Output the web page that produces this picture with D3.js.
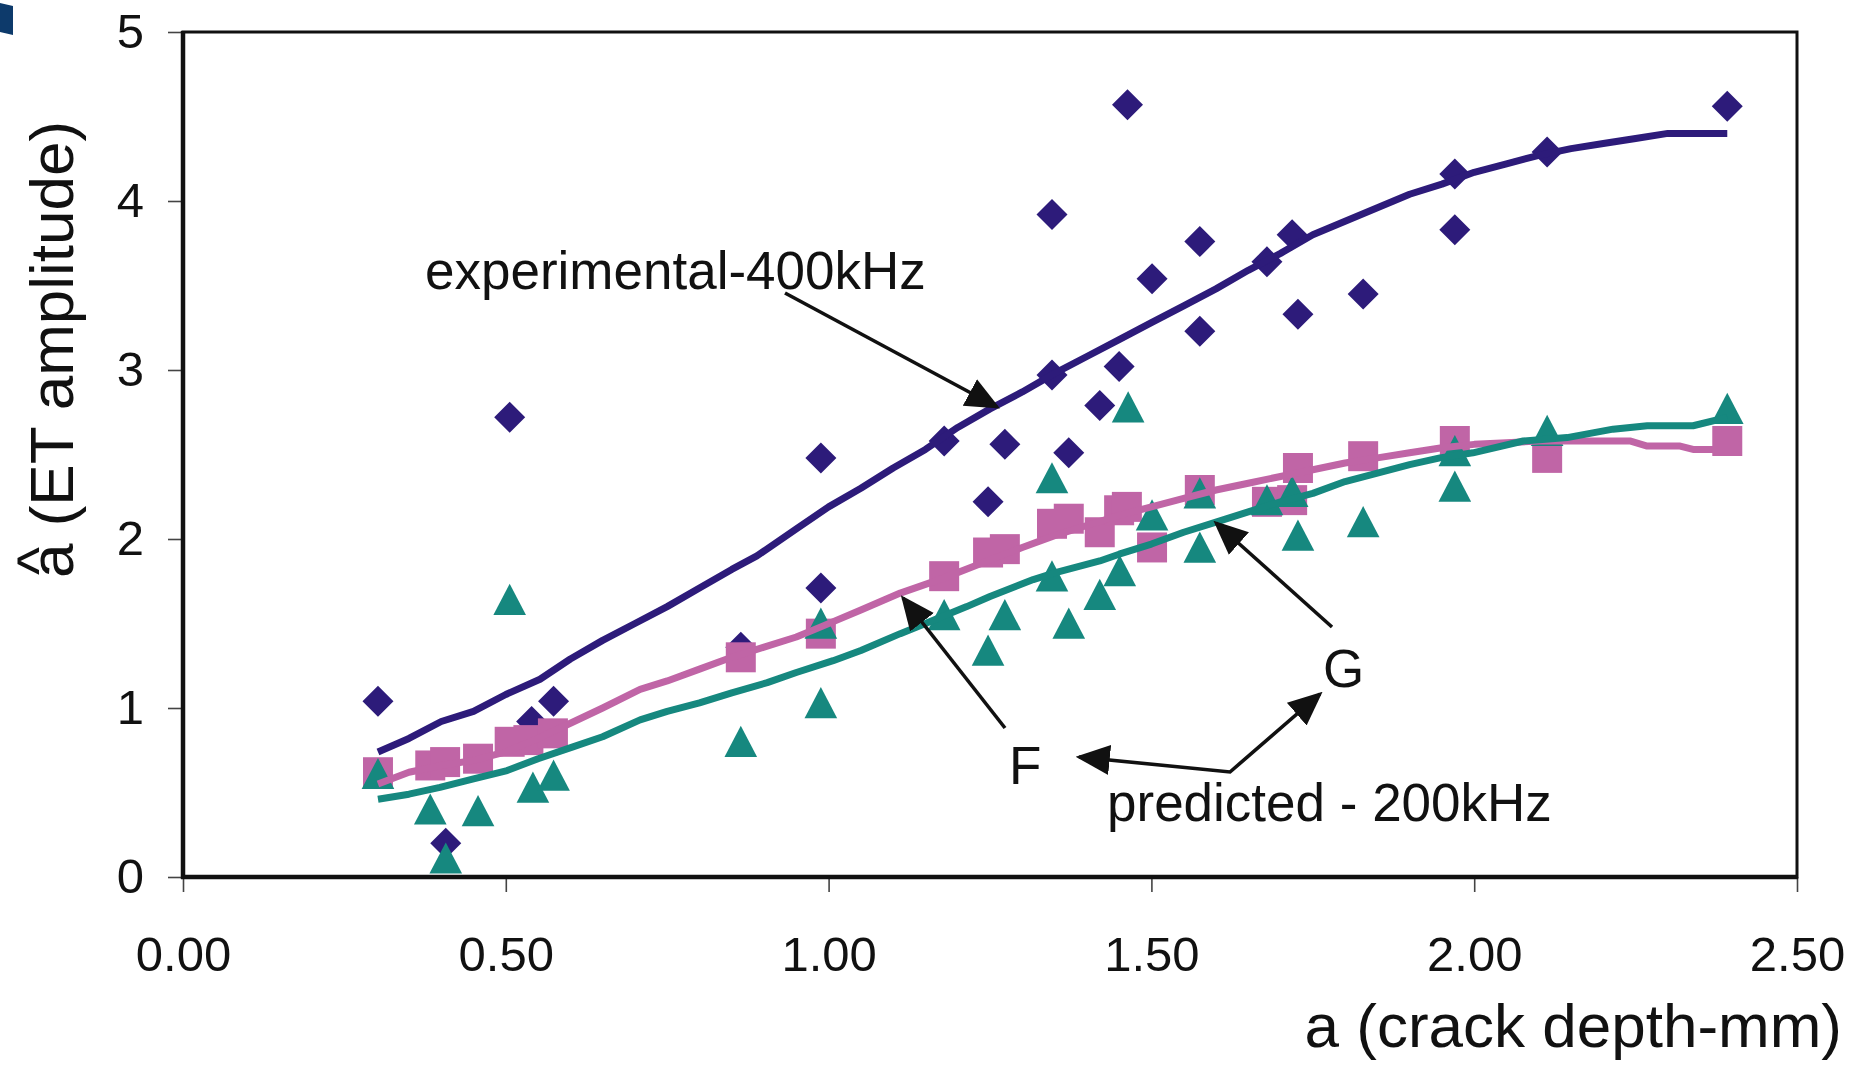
<!DOCTYPE html>
<html><head><meta charset="utf-8">
<script src="https://cdn.jsdelivr.net/npm/d3@7"></script>
<style>html,body{margin:0;padding:0;background:#fff;} svg{display:block;}</style>
</head><body>
<svg id="chart" width="1851" height="1065"></svg>
<script>
// ---------- data ----------
const xTicks = [0, 0.5, 1.0, 1.5, 2.0, 2.5];
const yTicks = [0, 1, 2, 3, 4, 5];

// experimental 400 kHz (diamonds)
const diamondX = [0.302,0.407,0.506,0.540,0.574,0.864,0.988,0.988,1.179,1.247,1.273,1.346,1.346,1.372,1.420,1.450,1.463,1.501,1.575,1.575,1.679,1.718,1.727,1.828,1.970,1.970,2.113,2.392];
const diamondY = [1.04,0.20,2.72,0.92,1.04,1.36,2.48,1.71,2.58,2.22,2.56,3.92,2.97,2.51,2.79,3.02,4.57,3.54,3.76,3.23,3.64,3.80,3.33,3.45,4.16,3.83,4.29,4.56];

// squares
const squareX = [0.302,0.383,0.406,0.457,0.506,0.535,0.573,0.864,0.988,1.179,1.247,1.273,1.346,1.372,1.420,1.450,1.462,1.501,1.575,1.679,1.718,1.727,1.828,1.970,2.113,2.392];
const squareY = [0.62,0.66,0.68,0.70,0.80,0.81,0.85,1.30,1.44,1.78,1.92,1.94,2.09,2.12,2.04,2.17,2.19,1.95,2.29,2.22,2.23,2.42,2.49,2.58,2.48,2.58];

// triangles
const triangleX = [0.302,0.383,0.407,0.457,0.506,0.542,0.574,0.864,0.988,0.988,1.179,1.247,1.273,1.346,1.346,1.372,1.420,1.451,1.464,1.501,1.575,1.575,1.679,1.718,1.727,1.828,1.970,1.970,2.113,2.392];
const triangleY = [0.61,0.40,0.11,0.39,1.64,0.53,0.60,0.80,1.03,1.50,1.55,1.34,1.55,1.78,2.36,1.50,1.67,1.81,2.78,2.14,1.95,2.27,2.23,2.28,2.02,2.10,2.31,2.52,2.64,2.77];

// experimental-400kHz curve
const navyLineX = [0.302,0.35,0.40,0.45,0.50,0.553,0.60,0.65,0.70,0.75,0.80,0.85,0.889,0.95,1.00,1.05,1.10,1.15,1.20,1.25,1.30,1.35,1.40,1.45,1.50,1.55,1.60,1.65,1.70,1.75,1.80,1.85,1.90,1.95,2.00,2.05,2.10,2.15,2.20,2.25,2.30,2.392];
const navyLineY = [0.74,0.82,0.92,0.98,1.08,1.17,1.29,1.40,1.50,1.60,1.71,1.82,1.90,2.06,2.19,2.30,2.42,2.53,2.66,2.77,2.87,2.98,3.08,3.18,3.28,3.38,3.48,3.59,3.69,3.80,3.88,3.96,4.04,4.10,4.17,4.22,4.27,4.31,4.34,4.37,4.40,4.40];

// predicted F (pink)
const pinkLineX = [0.302,0.35,0.40,0.45,0.50,0.55,0.60,0.65,0.708,0.75,0.80,0.85,0.90,0.95,0.988,1.05,1.111,1.179,1.239,1.30,1.35,1.40,1.45,1.50,1.55,1.60,1.65,1.70,1.75,1.80,1.85,1.90,1.95,2.00,2.05,2.10,2.15,2.20,2.241,2.268,2.319,2.339,2.392];
const pinkLineY = [0.55,0.62,0.66,0.69,0.74,0.82,0.91,1.00,1.11,1.16,1.23,1.30,1.36,1.42,1.48,1.58,1.68,1.77,1.86,1.95,2.02,2.08,2.14,2.19,2.24,2.29,2.33,2.37,2.41,2.45,2.48,2.51,2.54,2.56,2.57,2.58,2.58,2.58,2.58,2.55,2.55,2.53,2.53];

// predicted G (teal)
const tealLineX = [0.302,0.35,0.398,0.45,0.502,0.55,0.604,0.65,0.708,0.75,0.80,0.85,0.905,0.95,1.007,1.05,1.111,1.15,1.214,1.25,1.317,1.35,1.420,1.45,1.50,1.55,1.60,1.65,1.70,1.75,1.80,1.85,1.90,1.947,1.998,2.076,2.144,2.215,2.268,2.339,2.392];
const tealLineY = [0.46,0.49,0.53,0.58,0.63,0.70,0.77,0.83,0.93,0.98,1.03,1.09,1.15,1.21,1.28,1.34,1.44,1.50,1.60,1.66,1.76,1.80,1.87,1.91,1.97,2.04,2.10,2.16,2.22,2.27,2.34,2.39,2.44,2.48,2.51,2.58,2.60,2.65,2.67,2.67,2.72];

const navy = "#2d1b7a", pink = "#c065a6", teal = "#16887f";
const FONT = "'Liberation Sans', Arial, Helvetica, sans-serif";

// ---------- chart ----------
const svg = d3.select("#chart");
const x = d3.scaleLinear().domain([0, 2.5]).range([183, 1797]);
const y = d3.scaleLinear().domain([0, 5]).range([877, 32]);

// small corner patch
svg.append("path").attr("d","M0,3L13,6L13,35L0,32Z").attr("fill","#0d3a6b");

// axes (ticks + labels)
const xAxis = d3.axisBottom(x).tickValues(xTicks).tickFormat(d3.format(".2f")).tickSize(15).tickPadding(44);
const yAxis = d3.axisLeft(y).tickValues(yTicks).tickFormat(d3.format("d")).tickSize(15).tickPadding(24);
const gx = svg.append("g").attr("transform","translate(0,877)").call(xAxis);
const gy = svg.append("g").attr("transform","translate(183,0)").call(yAxis);
[gx, gy].forEach(g => {
  g.select(".domain").remove();
  g.selectAll(".tick line").attr("stroke","#444").attr("stroke-width",1.6);
  g.selectAll(".tick text").attr("fill","#111").style("font-family",FONT).style("font-size","49px");
});

// frame
svg.append("rect").attr("x",x(0)).attr("y",y(5)).attr("width",x(2.5)-x(0)).attr("height",y(0)-y(5))
  .attr("fill","none").attr("stroke","#111").attr("stroke-width",3);
svg.append("line").attr("x1",x(0)).attr("x2",x(0)).attr("y1",y(5)-1).attr("y2",y(0)+2).attr("stroke","#111").attr("stroke-width",4.5);
svg.append("line").attr("x1",x(0)-2).attr("x2",x(2.5)+1).attr("y1",y(0)).attr("y2",y(0)).attr("stroke","#111").attr("stroke-width",4.5);

// symbol types
const diamondType = { draw(ctx, size){ const r = Math.sqrt(size)/2; ctx.moveTo(0,-r); ctx.lineTo(r,0); ctx.lineTo(0,r); ctx.lineTo(-r,0); ctx.closePath(); } };
const squareType = { draw(ctx, size){ const r = Math.sqrt(size)/2; ctx.rect(-r,-r,2*r,2*r); } };
const triType = { draw(ctx, size){ const r = Math.sqrt(size)/2; ctx.moveTo(0,-r); ctx.lineTo(r*1.02,r*0.95); ctx.lineTo(-r*1.02,r*0.95); ctx.closePath(); } };

function drawPoints(xs, ys, type, size, color){
  const pts = xs.map((v,i)=>[v, ys[i]]);
  svg.append("g").selectAll("path").data(pts).join("path")
    .attr("transform", d => `translate(${x(d[0])},${y(d[1])})`)
    .attr("d", d3.symbol().type(type).size(size))
    .attr("fill", color);
}
drawPoints(diamondX, diamondY, diamondType, 31*31, navy);
drawPoints(squareX, squareY, squareType, 30*30, pink);
drawPoints(triangleX, triangleY, triType, 32*32, teal);

// lines
const lineGen = d3.line().x(d=>x(d[0])).y(d=>y(d[1]));
function drawLine(xs, ys, color){
  svg.append("path").datum(xs.map((v,i)=>[v, ys[i]]))
    .attr("d", lineGen).attr("fill","none").attr("stroke",color)
    .attr("stroke-width",7).attr("stroke-linejoin","round");
}
drawLine(navyLineX, navyLineY, navy);
drawLine(pinkLineX, pinkLineY, pink);
drawLine(tealLineX, tealLineY, teal);

// arrow marker
const defs = svg.append("defs");
defs.append("marker").attr("id","ah").attr("viewBox","0 0 10 10").attr("refX",9).attr("refY",5)
  .attr("markerWidth",9.5).attr("markerHeight",9.5).attr("markerUnits","strokeWidth").attr("orient","auto-start-reverse")
  .append("path").attr("d","M0,0.6L10,5L0,9.4Z").attr("fill","#111");

function arrow(pts, both){
  const p = svg.append("path").attr("d", d3.line()(pts)).attr("fill","none")
    .attr("stroke","#111").attr("stroke-width",3.6).attr("marker-end","url(#ah)");
  if (both) p.attr("marker-start","url(#ah)");
}
arrow([[785,293],[997,407]]);
arrow([[1332,627],[1216,523]]);
arrow([[1005,728],[903,598]]);
arrow([[1079,757],[1230,772],[1320,694]], true);

// annotation texts
function label(txt, xx, yy, size, anchor){
  svg.append("text").attr("x",xx).attr("y",yy).attr("text-anchor",anchor||"start")
    .style("font-family",FONT).style("font-size",size+"px").attr("fill","#111").text(txt);
}
label("experimental-400kHz", 425, 289, 53);
label("G", 1323, 687, 53);
label("F", 1009, 784, 53);
label("predicted - 200kHz", 1107, 821, 53);

// axis titles
label("a (crack depth-mm)", 1842, 1047, 62, "end");
svg.append("text").attr("transform","translate(73,578) rotate(-90)").attr("text-anchor","start")
  .style("font-family",FONT).style("font-size","62px").attr("fill","#111").text("a (ET amplitude)");
svg.append("text").attr("transform","translate(59,561) rotate(-90)").attr("text-anchor","middle")
  .style("font-family",FONT).style("font-size","60px").attr("fill","#111").text("^");
</script>
</body></html>
